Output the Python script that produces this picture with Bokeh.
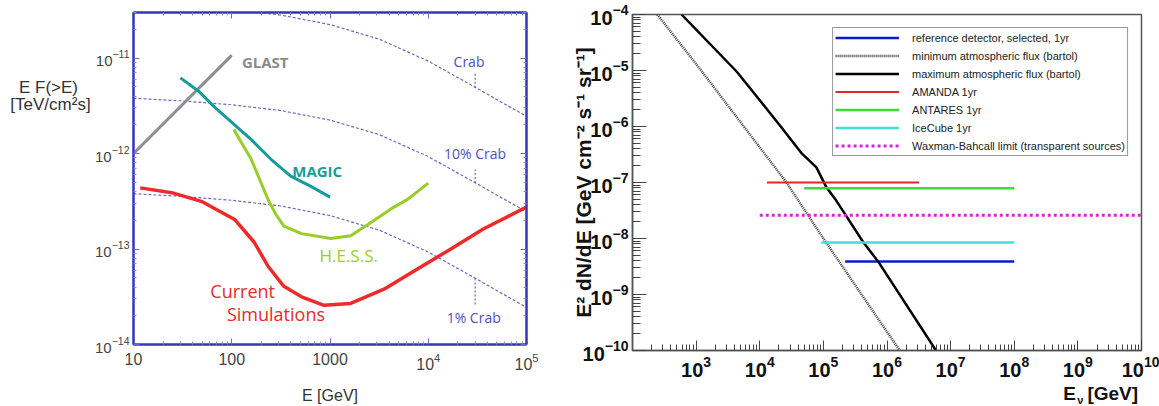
import math
from bokeh.plotting import figure
from bokeh.layouts import row, column
from bokeh.models import (Label, FixedTicker, LogTickFormatter, LogAxis, Range1d,
                          Legend, LegendItem)
from bokeh.embed import file_html
from bokeh.resources import INLINE

# ---------------- left panel data (E in GeV, E F(>E) in TeV/cm^2 s) ----------------
glast_E = [10, 100]
glast_F = [1.0e-12, 1.07e-11]

magic_E = [30, 46, 66, 107, 158, 251, 398, 646, 1000]
magic_F = [6.2e-12, 4.5e-12, 3.1e-12, 2.0e-12, 1.4e-12, 8.7e-13, 5.8e-13, 4.5e-13, 3.5e-13]

hess_E = [105, 158, 234, 282, 339, 513, 1023, 1622, 2455, 4169, 6166, 10000]
hess_F = [1.78e-12, 8.7e-13, 3.3e-13, 2.3e-13, 1.74e-13, 1.45e-13, 1.29e-13, 1.38e-13,
          1.82e-13, 2.63e-13, 3.31e-13, 4.9e-13]

sim_E = [11.7, 24.5, 49, 107, 170, 234, 339, 513, 871, 1622, 3548, 7762, 16982, 36308, 100000]
sim_F = [4.37e-13, 3.89e-13, 3.16e-13, 2.04e-13, 1.17e-13, 6.6e-14, 4.07e-14, 3.16e-14,
         2.57e-14, 2.69e-14, 3.8e-14, 6.17e-14, 1.0e-13, 1.62e-13, 2.75e-13]

crab_E = [10, 31.6, 100, 316, 1000, 3162, 10000, 31623, 100000]
crab_F = [3.8e-11, 3.55e-11, 3.24e-11, 2.82e-11, 2.24e-11, 1.58e-11, 9.3e-12, 4.8e-12, 2.45e-12]
crab_fractions = [1.0, 0.1, 0.01]
crab_names = ["Crab", "10% Crab", "1% Crab"]
crab_marker_E = 30000
crab_marker_F = [4.9e-12, 4.9e-13, 4.9e-14]
crab_marker_end = [7.1e-12, 6.8e-13, 2.6e-14]

# ---------------- right panel data (E in GeV, E^2 dN/dE in GeV cm^-2 s^-1 sr^-1) ----------------
atm_min_E = [245, 1202, 5623, 26303, 100000, 398107, 1584893]
atm_min_F = [1e-4, 1e-5, 1e-6, 1e-7, 1e-8, 1e-9, 1e-10]

atm_max_E = [589, 4365, 21380, 45709, 77625, 112202, 158489, 426580, 724436, 5888437]
atm_max_F = [1e-4, 9.5e-6, 1e-6, 3.3e-7, 1.86e-7, 8.1e-8, 4.8e-8, 8.5e-9, 3.9e-9, 1e-10]

ref_E = [2.2e5, 1e8];    ref_F = [3.9e-9, 3.9e-9]
amanda_E = [1.3e4, 3.2e6]; amanda_F = [1.0e-7, 1.0e-7]
antares_E = [5.0e4, 1e8];  antares_F = [7.9e-8, 7.9e-8]
icecube_E = [9.3e4, 1e8];  icecube_F = [8.5e-9, 8.5e-9]
wb_E = [1e4, 1e10];        wb_F = [2.6e-8, 2.6e-8]

legend_labels = ["reference detector, selected, 1yr", "minimum atmospheric flux (bartol)",
                 "maximum atmospheric flux (bartol)", "AMANDA 1yr", "ANTARES 1yr",
                 "IceCube 1yr", "Waxman-Bahcall limit (transparent sources)"]


def minor_ticks(lo, hi):
    out = []
    for k in range(lo, hi):
        for m in range(2, 10):
            out.append(m * 10.0 ** k)
    return out


def text_strip(w, h):
    f = figure(width=w, height=h, x_range=Range1d(0, w), y_range=Range1d(0, h),
               x_axis_location=None, y_axis_location=None, min_border=0,
               output_backend="svg", toolbar_location=None)
    f.grid.visible = False
    f.outline_line_color = None
    return f


# ======================= LEFT PANEL: y-label strip =======================
fL = text_strip(92, 406)
fL.add_layout(Label(x=48, y=314, text="E F(>E)", text_font="Liberation Sans",
                    text_font_size="17px", text_color="#333333",
                    text_align="center", text_baseline="middle"))
fL.add_layout(Label(x=50, y=294, text="[TeV/cm\u00b2s]", text_font="Liberation Sans",
                    text_font_size="17px", text_color="#333333",
                    text_align="center", text_baseline="middle"))

# =============================== LEFT PANEL ===============================
BLUE = "#3535c0"
p1 = figure(width=476, height=406, x_axis_type="log", y_axis_type="log",
            x_range=Range1d(10, 1e5), y_range=Range1d(1e-14, 3.0e-11),
            output_backend="svg", toolbar_location=None,
            min_border_left=40, min_border_right=42, min_border_top=12, min_border_bottom=60)
p1.grid.visible = False
p1.outline_line_color = BLUE
p1.outline_line_width = 2
p1.background_fill_color = "white"

xt1 = dict(ticks=[10, 100, 1000, 1e4, 1e5], minor_ticks=minor_ticks(1, 5))
yt1 = dict(ticks=[1e-14, 1e-13, 1e-12, 1e-11], minor_ticks=minor_ticks(-14, -10))


def style_axis(ax, show_labels=True, standoff=6):
    ax.axis_line_color = BLUE
    ax.axis_line_width = 2
    ax.major_tick_in = 6
    ax.major_tick_out = 0
    ax.minor_tick_in = 3
    ax.minor_tick_out = 0
    ax.major_tick_line_color = "#6a6ac4"
    ax.minor_tick_line_color = "#8a8ad0"
    ax.major_label_text_font = "Liberation Sans"
    ax.major_label_text_font_size = "15px" if show_labels else "2px"
    ax.major_label_text_color = "#444444" if show_labels else None
    ax.major_label_standoff = standoff if show_labels else 0


p1.xaxis[0].ticker = FixedTicker(**xt1)
p1.xaxis[0].formatter = LogTickFormatter(min_exponent=3)
p1.xaxis[0].major_label_overrides = {1000: "1000"}
p1.yaxis[0].ticker = FixedTicker(**yt1)
style_axis(p1.xaxis[0], True, 8)
style_axis(p1.yaxis[0], True, 4)
p1.xaxis[0].major_label_text_font_size = "16px"
p1.xaxis[0].axis_label = "E [GeV]"
p1.xaxis[0].axis_label_text_font = "Liberation Sans"
p1.xaxis[0].axis_label_text_font_size = "16px"
p1.xaxis[0].axis_label_text_font_style = "normal"
p1.xaxis[0].axis_label_text_color = "#333333"
p1.xaxis[0].axis_label_standoff = 14
top1 = LogAxis(ticker=FixedTicker(**xt1))
right1 = LogAxis(ticker=FixedTicker(**yt1))
style_axis(top1, False)
style_axis(right1, False)
p1.add_layout(top1, "above")
p1.add_layout(right1, "right")

# Crab reference curves
for frac, mE, mF, mEnd in zip(crab_fractions, [crab_marker_E] * 3, crab_marker_F, crab_marker_end):
    p1.line(crab_E, [f * frac for f in crab_F], line_color="#6b6bc0",
            line_width=1.2, line_dash="3 2")
    p1.line([mE, mE], [mF, mEnd], line_color="#6b6bc0", line_width=1.2, line_dash="2 2")

p1.line(glast_E, glast_F, line_color="#8c8c8c", line_width=3)
p1.line(magic_E, magic_F, line_color="#179c9c", line_width=3)
p1.line(hess_E, hess_F, line_color="#9acd2a", line_width=3)
p1.line(sim_E, sim_F, line_color="#ee2a2a", line_width=3.5)

lbl = dict(text_align="center", text_baseline="middle")
p1.add_layout(Label(x=219, y=9.1e-12, text="GLAST", text_font="Open Sans", text_font_style="bold",
                    text_font_size="15px", text_color="#8c8c8c", **lbl))
p1.add_layout(Label(x=741, y=6.6e-13, text="MAGIC", text_font="Open Sans", text_font_style="bold",
                    text_font_size="15px", text_color="#179c9c", **lbl))
p1.add_layout(Label(x=1549, y=8.5e-14, text="H.E.S.S.", text_font="Open Sans",
                    text_font_size="17px", text_color="#9acd2a", **lbl))
p1.add_layout(Label(x=129, y=3.6e-14, text="Current", text_font="Open Sans",
                    text_font_size="18px", text_color="#e42a2a", **lbl))
p1.add_layout(Label(x=282, y=2.1e-14, text="Simulations", text_font="Open Sans",
                    text_font_size="18px", text_color="#e42a2a", **lbl))
for name, cx, cy in zip(crab_names, [2.6e4, 3.0e4, 2.9e4], [9.1e-12, 1.0e-12, 1.9e-14]):
    p1.add_layout(Label(x=cx, y=cy, text=name, text_font="Open Sans", text_font_size="14px",
                        text_color="#5050b8", **lbl))

# =============================== RIGHT PANEL ===============================
GRAY = "#555555"
p2 = figure(width=591, height=384, x_axis_type="log", y_axis_type="log",
            x_range=Range1d(100, 1e10), y_range=Range1d(1e-10, 1e-4),
            output_backend="svg", toolbar_location=None,
            min_border_left=60, min_border_right=18, min_border_top=14, min_border_bottom=34)
p2.grid.visible = False
p2.outline_line_color = GRAY
p2.outline_line_width = 1.5

xa = p2.xaxis[0]
xa.ticker = FixedTicker(ticks=[1e3, 1e4, 1e5, 1e6, 1e7, 1e8, 1e9, 1e10], minor_ticks=minor_ticks(2, 10))
ya = p2.yaxis[0]
ya.ticker = FixedTicker(ticks=[1e-10, 1e-9, 1e-8, 1e-7, 1e-6, 1e-5, 1e-4], minor_ticks=minor_ticks(-10, -4))
for ax, mj, mn, so in [(xa, 10, 6, 5), (ya, 14, 8, 4)]:
    ax.axis_line_color = GRAY
    ax.axis_line_width = 1.5
    ax.major_tick_in = mj
    ax.major_tick_out = 0
    ax.minor_tick_in = mn
    ax.minor_tick_out = 0
    ax.major_tick_line_color = "#444444"
    ax.minor_tick_line_color = "#444444"
    ax.major_label_text_font = "Liberation Sans"
    ax.major_label_text_font_style = "bold"
    ax.major_label_text_font_size = "20px"
    ax.major_label_text_color = "#111111"
    ax.major_label_standoff = so

ya.axis_label = "E\u00b2 dN/dE [GeV cm\u207b\u00b2 s\u207b\u00b9 sr\u207b\u00b9]"
ya.axis_label_text_font = "Liberation Sans"
ya.axis_label_text_font_style = "bold"
ya.axis_label_text_font_size = "21px"
ya.axis_label_text_color = "#111111"
ya.axis_label_standoff = -15

r_ref = p2.line(ref_E, ref_F, line_color="#0a1ccc", line_width=2.5)
r_min = p2.line(atm_min_E, atm_min_F, line_color="#3a3a3a", line_width=2.5, line_dash="1 1")
r_max = p2.line(atm_max_E, atm_max_F, line_color="black", line_width=2.5)
r_am = p2.line(amanda_E, amanda_F, line_color="#e0262a", line_width=2)
r_an = p2.line(antares_E, antares_F, line_color="#37dd37", line_width=2.5)
r_ic = p2.line(icecube_E, icecube_F, line_color="#45dcdc", line_width=2.5)
r_wb = p2.line(wb_E, wb_F, line_color="#e020e0", line_width=3, line_dash="3 3")

legend = Legend(items=[LegendItem(label=t, renderers=[r]) for t, r in
                       zip(legend_labels, [r_ref, r_min, r_max, r_am, r_an, r_ic, r_wb])],
                location="top_right", margin=13, padding=2, spacing=3,
                label_height=15, glyph_height=15, glyph_width=64, label_standoff=13,
                label_text_font="Liberation Sans", label_text_font_size="11px",
                label_text_color="#222222", border_line_color="#333333", border_line_width=1,
                background_fill_color="white", background_fill_alpha=1)
p2.add_layout(legend)

# ======================= RIGHT PANEL: x-label strip =======================
fB = text_strip(591, 22)
fB.add_layout(Label(x=587, y=13, text="[GeV]", text_font="Liberation Sans",
                    text_font_style="bold", text_font_size="19px", text_color="#111111",
                    text_align="right", text_baseline="middle"))
fB.add_layout(Label(x=515, y=13, text="E", text_font="Liberation Sans",
                    text_font_style="bold", text_font_size="19px", text_color="#111111",
                    text_align="right", text_baseline="middle"))
fB.add_layout(Label(x=520, y=7, text="\u03bd", text_font="Liberation Sans",
                    text_font_style="bold", text_font_size="11px", text_color="#111111",
                    text_align="center", text_baseline="middle"))

layout = row(fL, p1, column(p2, fB))
open("out.html", "w").write(file_html(layout, INLINE))
